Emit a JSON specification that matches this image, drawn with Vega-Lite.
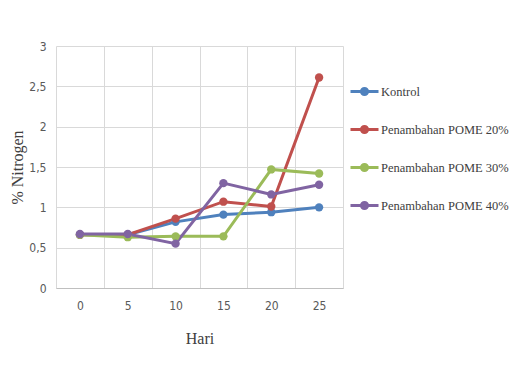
{
  "$schema": "https://vega.github.io/schema/vega-lite/v6.json",
  "width": 287,
  "height": 242,
  "autosize": {"type": "none"},
  "padding": {"left": 56, "top": 46, "right": 173, "bottom": 91},
  "background": "white",
  "config": {"view": {"stroke": null}, "legend": {"labelFont": "Liberation Serif, serif"}},
  "data": {"values": [
    {"hari": "0", "seri": "Kontrol", "n": 0.66},
    {"hari": "5", "seri": "Kontrol", "n": 0.66},
    {"hari": "10", "seri": "Kontrol", "n": 0.82},
    {"hari": "15", "seri": "Kontrol", "n": 0.91},
    {"hari": "20", "seri": "Kontrol", "n": 0.94},
    {"hari": "25", "seri": "Kontrol", "n": 1.0},
    {"hari": "0", "seri": "Penambahan POME 20%", "n": 0.66},
    {"hari": "5", "seri": "Penambahan POME 20%", "n": 0.66},
    {"hari": "10", "seri": "Penambahan POME 20%", "n": 0.86},
    {"hari": "15", "seri": "Penambahan POME 20%", "n": 1.07},
    {"hari": "20", "seri": "Penambahan POME 20%", "n": 1.01},
    {"hari": "25", "seri": "Penambahan POME 20%", "n": 2.61},
    {"hari": "0", "seri": "Penambahan POME 30%", "n": 0.66},
    {"hari": "5", "seri": "Penambahan POME 30%", "n": 0.63},
    {"hari": "10", "seri": "Penambahan POME 30%", "n": 0.64},
    {"hari": "15", "seri": "Penambahan POME 30%", "n": 0.64},
    {"hari": "20", "seri": "Penambahan POME 30%", "n": 1.47},
    {"hari": "25", "seri": "Penambahan POME 30%", "n": 1.42},
    {"hari": "0", "seri": "Penambahan POME 40%", "n": 0.67},
    {"hari": "5", "seri": "Penambahan POME 40%", "n": 0.67},
    {"hari": "10", "seri": "Penambahan POME 40%", "n": 0.55},
    {"hari": "15", "seri": "Penambahan POME 40%", "n": 1.3},
    {"hari": "20", "seri": "Penambahan POME 40%", "n": 1.16},
    {"hari": "25", "seri": "Penambahan POME 40%", "n": 1.28}
  ]},
  "mark": {"type": "line", "strokeWidth": 3, "point": {"filled": true, "size": 70}},
  "encoding": {
    "x": {
      "field": "hari", "type": "ordinal", "sort": null, "bandPosition": 0.5,
      "scale": {"type": "band", "paddingInner": 0, "paddingOuter": 0},
      "axis": {
        "title": "Hari", "labelAngle": 0, "tickBand": "extent", "ticks": false,
        "grid": true, "gridColor": "#d9d9d9", "domainColor": "#bfbfbf",
        "labelFont": "Liberation Sans Narrow, DejaVu Sans Condensed, sans-serif", "labelFontSize": 12, "labelColor": "#595959", "labelPadding": 12,
        "titleFont": "Liberation Serif", "titleFontSize": 16, "titleFontWeight": "normal", "titleColor": "#404040", "titlePadding": 19
      }
    },
    "y": {
      "field": "n", "type": "quantitative",
      "scale": {"domain": [0, 3], "nice": false},
      "axis": {
        "title": "% Nitrogen", "values": [0, 0.5, 1, 1.5, 2, 2.5, 3], "ticks": false, "domain": false,
        "gridColor": "#d9d9d9", "labelExpr": "replace(format(datum.value, '~g'), '.', ',')",
        "labelFont": "Liberation Sans Narrow, DejaVu Sans Condensed, sans-serif", "labelFontSize": 12, "labelColor": "#595959", "labelPadding": 10,
        "titleFont": "Liberation Serif", "titleFontSize": 16, "titleFontWeight": "normal", "titleColor": "#404040", "titlePadding": 3
      }
    },
    "color": {
      "field": "seri", "type": "nominal",
      "scale": {"range": ["#4F81BD", "#C0504D", "#9BBB59", "#8064A2"]},
      "legend": {
        "title": null, "orient": "none", "legendX": 293, "legendY": 30,
        "symbolType": "M -1 0 L 1 0 M -0.22 0 A 0.22 0.22 0 1 0 0.22 0 A 0.22 0.22 0 1 0 -0.22 0",
        "symbolSize": 784, "symbolStrokeWidth": 3, "rowPadding": 13,
        "labelFont": "Liberation Serif, serif", "labelFontSize": 12.5, "labelColor": "#404040", "labelOffset": 1, "labelLimit": 300
      }
    }
  }
}
